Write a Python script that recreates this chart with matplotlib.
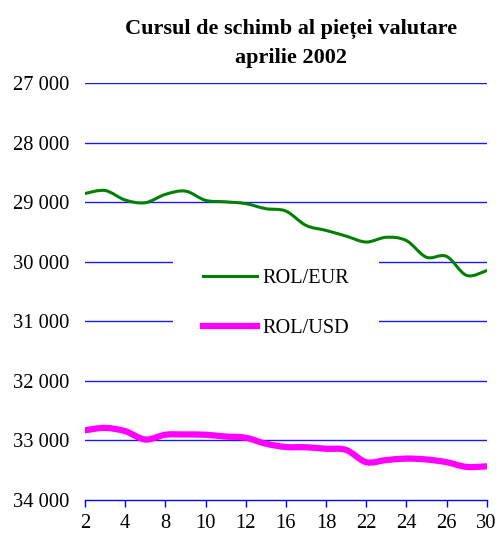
import numpy as np
import matplotlib
matplotlib.use("Agg")
import matplotlib.pyplot as plt
from matplotlib.path import Path
from matplotlib.patches import PathPatch
from matplotlib.lines import Line2D

# zile de tranzactionare, aprilie 2002
days = [2, 3, 4, 5, 8, 9, 10, 11, 12, 15, 16, 17, 18, 19, 22, 23, 24, 25, 26, 29, 30]
rol_eur = [28855, 28805, 28965, 29010, 28870, 28815, 28970, 28995, 29025, 29110, 29150,
           29390, 29475, 29570, 29670, 29590, 29645, 29925, 29910, 30230, 30150]
rol_usd = [32830, 32790, 32845, 32985, 32905, 32900, 32905, 32935, 32955, 33055, 33110,
           33115, 33140, 33160, 33365, 33330, 33305, 33320, 33365, 33445, 33435]
y_ticks = [27000, 28000, 29000, 30000, 31000, 32000, 33000, 34000]

plt.rcParams['font.family'] = ['Liberation Serif', 'DejaVu Serif']


def smooth_path(x, y):
    # curba neteda tip Excel (Bezier cu tangente Catmull-Rom)
    p = np.column_stack([x, y]).astype(float)
    n = len(p)
    verts = [p[0]]
    codes = [Path.MOVETO]
    for i in range(n - 1):
        p_prev = p[i - 1] if i > 0 else p[i]
        p_next2 = p[i + 2] if i + 2 < n else p[i + 1]
        c1 = p[i] + (p[i + 1] - p_prev) / 6
        c2 = p[i + 1] - (p_next2 - p[i]) / 6
        verts += [c1, c2, p[i + 1]]
        codes += [Path.CURVE4] * 3
    return Path(verts, codes)


fig = plt.figure(figsize=(5.01, 5.34), dpi=100)
ax = fig.add_axes([0.1697, 0.0637, 0.8017, 0.7809])

x = np.arange(len(days))

for v in y_ticks[:-1]:
    ax.axhline(v, color='#1a1aff', lw=1.0, zorder=1)

ax.add_patch(PathPatch(smooth_path(x, rol_eur), fill=False, edgecolor='green',
                       lw=2.2, zorder=3, capstyle='round'))
ax.add_patch(PathPatch(smooth_path(x, rol_usd), fill=False, edgecolor='#ff00ff',
                       lw=4.5, zorder=3, capstyle='round'))

ax.set_xlim(0, len(days) - 1)
ax.set_ylim(34000, 27000)
ax.set_yticks(y_ticks)
ax.set_yticklabels([f"{v:,}".replace(",", " ") for v in y_ticks], fontsize=14.8)
ax.set_xticks(x[::2])
ax.set_xticklabels([str(d) for d in days[::2]], fontsize=14.8)

for s in ['left', 'right', 'top']:
    ax.spines[s].set_visible(False)
ax.spines['bottom'].set_color('blue')
ax.spines['bottom'].set_linewidth(1.0)
ax.tick_params(axis='y', length=0, pad=11)
ax.tick_params(axis='x', color='blue', length=5, width=1.0, pad=5)

handles = [Line2D([], [], color='green', lw=2.2),
           Line2D([], [], color='#ff00ff', lw=4.5)]
leg = ax.legend(handles, ['ROL/EUR', 'ROL/USD'], loc='center',
                bbox_to_anchor=(276 / 501, 1 - 303.5 / 534), bbox_transform=fig.transFigure,
                frameon=True, fontsize=14.6, handlelength=2.7, handletextpad=0.25,
                labelspacing=1.55, borderpad=1.45)
leg.get_frame().set_edgecolor('none')
leg.get_frame().set_facecolor('white')
leg.get_frame().set_alpha(1)
leg.set_zorder(2)

fig.text(0.580, 1 - 43 / 534, 'Cursul de schimb al pieței valutare\naprilie 2002',
         ha='center', va='center', fontsize=16, fontweight='bold', linespacing=1.6)

fig.savefig('out.png', dpi=100)
